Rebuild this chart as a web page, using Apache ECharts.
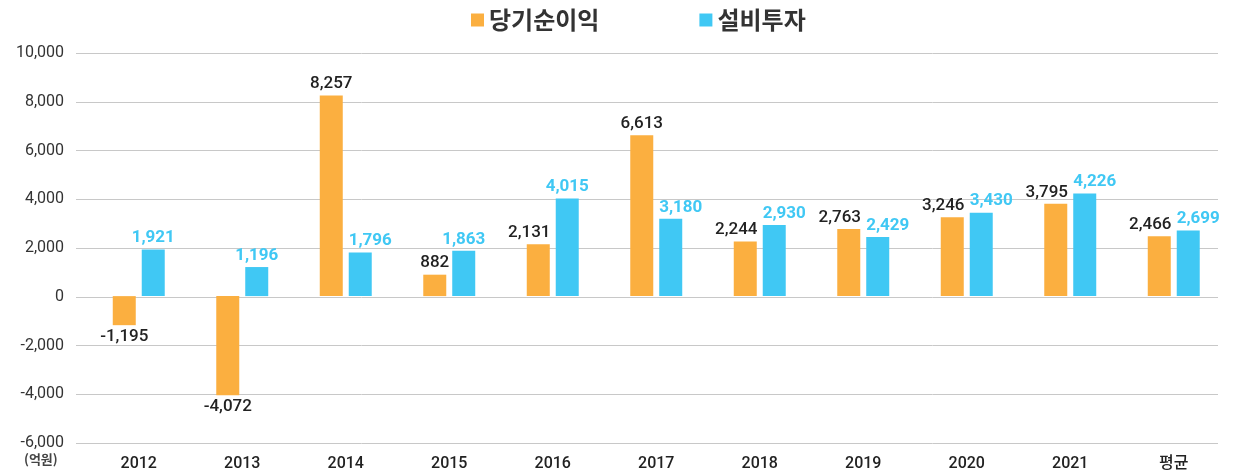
<!DOCTYPE html>
<html>
<head>
<meta charset="utf-8">
<script src="https://cdn.jsdelivr.net/npm/echarts@6/dist/echarts.min.js"></script>
<style>
html,body{margin:0;padding:0;background:#fff;}
#chart{width:1250px;height:472px;}
</style>
</head>
<body>
<div id="chart"></div>
<script>
const categories = ['2012','2013','2014','2015','2016','2017','2018','2019','2020','2021','평균'];
const netIncome = [-1195, -4072, 8257, 882, 2131, 6613, 2244, 2763, 3246, 3795, 2466];
const capex = [1921, 1196, 1796, 1863, 4015, 3180, 2930, 2429, 3430, 4226, 2699];
const seriesNames = ['당기순이익', '설비투자'];
const yTicks = {min: -6000, max: 10000, interval: 2000};
const unitLabel = '(억원)';

const chart = echarts.init(document.getElementById('chart'), null, {renderer: 'canvas'});
const fmt = v => v.toLocaleString('en-US');
const numFont = 'Roboto, "Noto Sans CJK KR", sans-serif';
const krFont = '"Noto Sans CJK KR", Roboto, sans-serif';

// move a value label sideways when it would run into the neighbouring bar or label
const bothUp = (i) => netIncome[i] > 0 && capex[i] > 0;
const shiftOrange = (i) => bothUp(i) && netIncome[i] >= 1000 && netIncome[i] < capex[i] + 900;
const shiftBlue = (i) => bothUp(i) && capex[i] < netIncome[i] + 900;
const orangeData = netIncome.map((v, i) => ({value: v, label: {offset: [shiftOrange(i) ? -9 : 0, 0]}}));
const blueData = capex.map((v, i) => ({value: v, label: {offset: [shiftBlue(i) ? 10 : 0, 0]}}));

chart.setOption({
  animation: false,
  backgroundColor: '#ffffff',
  textStyle: {fontFamily: numFont},
  legend: {
    data: seriesNames,
    left: 466, top: 3,
    icon: 'rect', itemWidth: 13, itemHeight: 13, itemGap: 100,
    textStyle: {fontSize: 24, fontWeight: 'bold', color: '#333', fontFamily: krFont}
  },
  grid: [
    {left: 76, right: 32, top: 53, bottom: 29},
    {left: 87, right: 24.5, top: 53, bottom: 29}
  ],
  xAxis: [
    {gridIndex: 0, type: 'category', data: categories, show: false},
    {gridIndex: 1, type: 'category', data: categories,
     axisLine: {show: false}, axisTick: {show: false},
     axisLabel: {fontSize: 16, color: '#222', fontWeight: 500, margin: 14, fontFamily: numFont}}
  ],
  yAxis: [
    {gridIndex: 0, type: 'value', min: yTicks.min, max: yTicks.max, interval: yTicks.interval,
     axisLine: {show: false}, axisTick: {show: false},
     axisLabel: {fontSize: 16, color: '#333', margin: 12, formatter: v => fmt(v)},
     splitLine: {lineStyle: {color: '#c8c8c8', width: 1}}},
    {gridIndex: 1, type: 'value', min: yTicks.min, max: yTicks.max, interval: yTicks.interval,
     show: false, splitLine: {show: false}}
  ],
  graphic: [{
    type: 'text', left: 24, top: 453,
    style: {text: unitLabel, fontSize: 13, fontWeight: 'bold', fill: '#444', fontFamily: krFont}
  }],
  series: [
    {name: seriesNames[0], type: 'bar', xAxisIndex: 1, yAxisIndex: 1,
     data: orangeData, barWidth: 23, barGap: '26%',
     itemStyle: {color: '#FBAF40'},
     label: {show: true, position: 'outside', fontSize: 17, fontWeight: 500, color: '#222',
       fontFamily: numFont, formatter: p => fmt(p.value), distance: 3}},
    {name: seriesNames[1], type: 'bar', xAxisIndex: 1, yAxisIndex: 1,
     data: blueData, barWidth: 23, barGap: '26%',
     itemStyle: {color: '#40C8F4'},
     label: {show: true, position: 'top', fontSize: 17, fontWeight: 'bold', color: '#40C8F4',
       fontFamily: numFont, formatter: p => fmt(p.value), distance: 3}}
  ]
});
</script>
</body>
</html>
